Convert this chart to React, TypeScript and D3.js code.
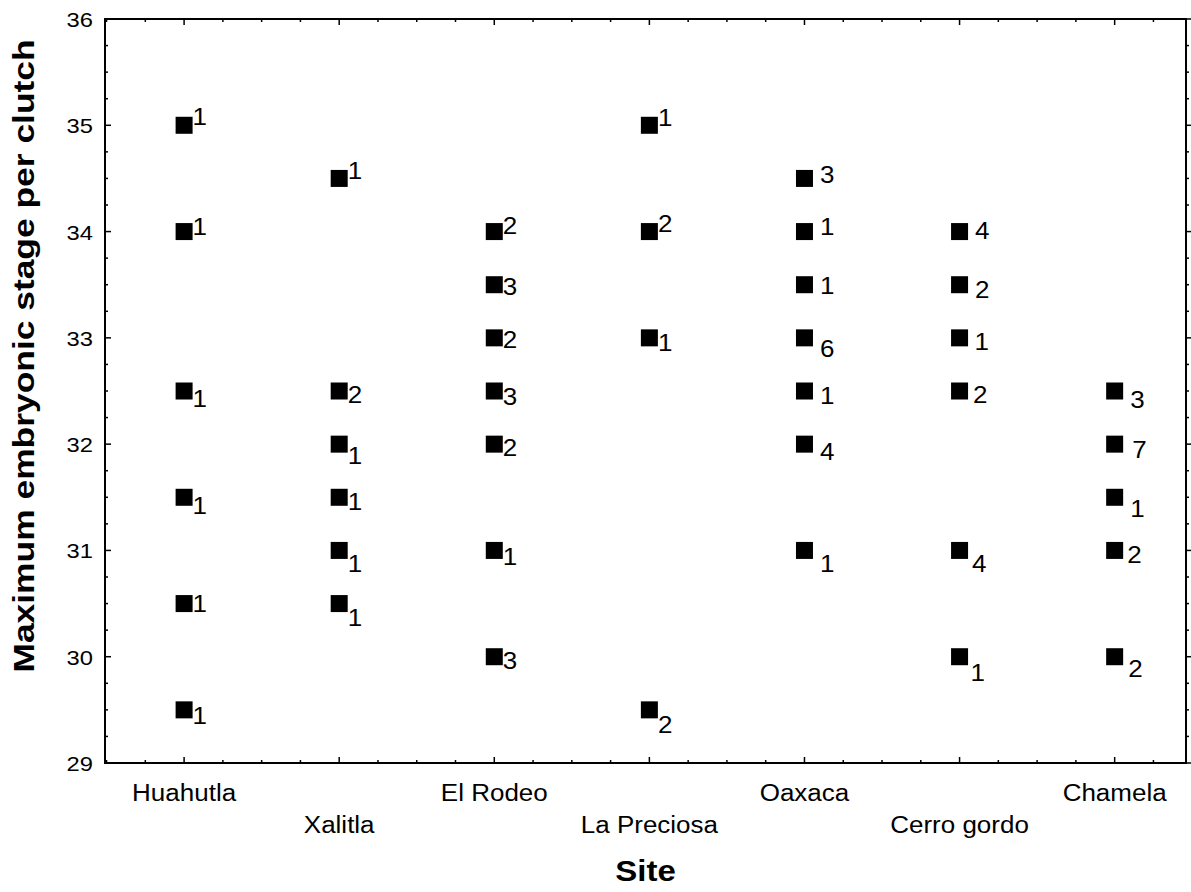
import React from 'react';
import * as d3 from 'd3';

// sites along the x axis (1..7)
const sites = ['Huahutla', 'Xalitla', 'El Rodeo', 'La Preciosa', 'Oaxaca', 'Cerro gordo', 'Chamela'];

// maximum embryonic stage per clutch, with the number of clutches at each point
const siteIndex = [1, 1, 1, 1, 1, 1, 2, 2, 2, 2, 2, 2, 3, 3, 3, 3, 3, 3, 3, 4, 4, 4, 4, 5, 5, 5, 5, 5, 5, 5, 6, 6, 6, 6, 6, 6, 7, 7, 7, 7, 7];
const stage = [35, 34, 32.5, 31.5, 30.5, 29.5, 34.5, 32.5, 32, 31.5, 31, 30.5, 34, 33.5, 33, 32.5, 32, 31, 30, 35, 34, 33, 29.5, 34.5, 34, 33.5, 33, 32.5, 32, 31, 34, 33.5, 33, 32.5, 31, 30, 32.5, 32, 31.5, 31, 30];
const counts = [1, 1, 1, 1, 1, 1, 1, 2, 1, 1, 1, 1, 2, 3, 2, 3, 2, 1, 3, 1, 2, 1, 2, 3, 1, 1, 6, 1, 4, 1, 4, 2, 1, 2, 4, 1, 3, 7, 1, 2, 2];

// label placement (gap after marker, baseline shift), as in the original export
const labelShift: [number, number][] = [
  [0, 0], [0, 3], [0, 16], [0, 17], [0, 8.5], [0, 14.5],
  [0, 1], [0, 12], [0, 20], [0, 12.5], [0, 22], [0, 22],
  [0, 2], [0, 10.5], [0, 10], [0, 14], [0, 11.5], [0, 15], [0, 12],
  [0, 1], [0, 0], [0, 13], [0, 23],
  [7, 4.5], [7, 3], [7, 9], [7, 19], [7, 12.5], [7, 16], [7, 22],
  [7, 7.5], [7, 13], [6.5, 12], [5, 12], [4, 22], [2.5, 24],
  [7, 16.5], [9, 14], [7, 20], [4, 13], [5, 20],
];

const yTicks = [29, 30, 31, 32, 33, 34, 35, 36];

const W = 1191;
const H = 892;
const FONT = 'Liberation Sans, Arial, Helvetica, sans-serif';
const SX = 1.13; // the original text is set a little wide

export default function App() {
  const x = d3.scaleLinear().domain([0.49, 7.46]).range([105, 1186]);
  const y = d3.scaleLinear().domain([29, 36]).range([763, 19]);
  const [x0, x1] = x.range();
  const [y0, y1] = y.range();

  const xMinor = d3.range(0.5, 7.46, 0.25).filter(v => Math.abs(v - Math.round(v)) > 0.01);
  const yMinor = d3.range(29, 36, 0.25).filter(v => Math.abs(v - Math.round(v)) > 0.01);
  const xMajor = sites.map((_, i) => i + 1);

  const sq = 17;

  return (
    <svg width={W} height={H} style={{ position: 'absolute', left: 0, top: 0, background: '#fff' }}>
      {/* ticks */}
      <g stroke="#000" strokeWidth={1.5}>
        {xMinor.map(v => (
          <g key={'xm' + v}>
            <line x1={x(v)} x2={x(v)} y1={y0} y2={y0 - 3} />
            <line x1={x(v)} x2={x(v)} y1={y1} y2={y1 + 3} />
          </g>
        ))}
        {xMajor.map(v => (
          <g key={'xM' + v}>
            <line x1={x(v)} x2={x(v)} y1={y0} y2={y0 - 6} />
            <line x1={x(v)} x2={x(v)} y1={y1} y2={y1 + 6} />
          </g>
        ))}
        {yMinor.map(v => (
          <g key={'ym' + v}>
            <line x1={x0} x2={x0 + 3} y1={y(v)} y2={y(v)} />
            <line x1={x1} x2={x1 + 3} y1={y(v)} y2={y(v)} />
          </g>
        ))}
        {yTicks.map(v => (
          <g key={'yM' + v}>
            <line x1={x0} x2={x0 + 6} y1={y(v)} y2={y(v)} />
            <line x1={x1} x2={x1 + 5} y1={y(v)} y2={y(v)} />
          </g>
        ))}
      </g>
      <rect x={x0} y={y1} width={x1 - x0} height={y0 - y1} fill="none" stroke="#000" strokeWidth={2} />

      {/* y tick labels */}
      <g fontFamily={FONT} fontSize={21} fill="#000">
        {yTicks.map(v => (
          <text key={'yl' + v} textAnchor="end" transform={`translate(93,${y(v) + 8}) scale(${SX},1)`}>
            {v}
          </text>
        ))}
      </g>

      {/* site labels, staggered in two rows */}
      <g fontFamily={FONT} fontSize={23} fill="#000">
        {sites.map((s, i) => (
          <text key={s} textAnchor="middle" transform={`translate(${x(i + 1)},${i % 2 === 0 ? 801 : 833}) scale(${SX},1)`}>
            {s}
          </text>
        ))}
      </g>

      {/* points and counts */}
      <g>
        {stage.map((v, i) => {
          const cx = x(siteIndex[i]);
          const cy = y(v);
          const [dx, dy] = labelShift[i];
          return (
            <g key={'p' + i}>
              <rect x={cx - sq / 2} y={cy - sq / 2} width={sq} height={sq} fill="#000" />
              <text
                fontFamily={FONT}
                fontSize={23}
                transform={`translate(${cx + sq / 2 + dx},${cy + dy}) scale(${SX},1)`}
              >
                {counts[i]}
              </text>
            </g>
          );
        })}
      </g>

      {/* axis titles */}
      <text
        fontFamily={FONT}
        fontSize={30}
        fontWeight="bold"
        textAnchor="middle"
        transform={`translate(34,356) rotate(-90) scale(1.18,1)`}
      >
        Maximum embryonic stage per clutch
      </text>
      <text
        fontFamily={FONT}
        fontSize={30}
        fontWeight="bold"
        textAnchor="middle"
        transform={`translate(${(x0 + x1) / 2},881) scale(1.1,1)`}
      >
        Site
      </text>
    </svg>
  );
}
